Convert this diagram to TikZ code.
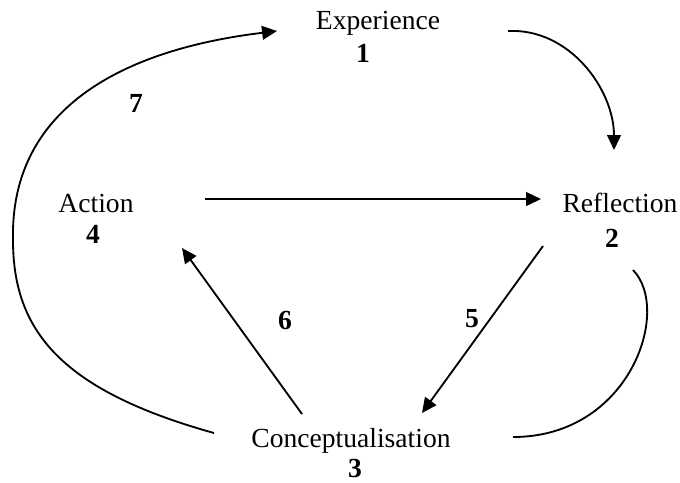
\documentclass[tikz,border=0pt]{standalone}
\usepackage{fontspec}
\setmainfont{Liberation Serif}
\usetikzlibrary{arrows.meta}

\begin{document}
\begin{tikzpicture}[x=0.435pt,y=-0.435pt,>={Triangle[length=6.5pt,width=6pt]},line width=0.8pt,font=\fontsize{12}{14}\selectfont]
\tikzstyle{lbl}=[anchor=base,inner sep=0pt]
\tikzstyle{num}=[lbl,font=\fontsize{12}{14}\selectfont\bfseries]
\useasboundingbox (0,0) rectangle (680,482);
% stages
\node[lbl] (exp) at (378,29) {Experience};
\node[num] (n1) at (363,62) {1};
\node[lbl] (ref) at (620,212) {Reflection};
\node[num] (n2) at (612,247) {2};
\node[lbl] (con) at (351,447) {Conceptualisation};
\node[num] (n3) at (355,477) {3};
\node[lbl] (act) at (96,212) {Action};
\node[num] (n4) at (93,243) {4};
% step numbers
\node[num] (n5) at (472,327) {5};
\node[num] (n6) at (285,329) {6};
\node[num] (n7) at (136,112) {7};
% end points
\coordinate (e1) at (508,31); \coordinate (r1) at (614,150);
\coordinate (a2) at (205,199); \coordinate (r2) at (541,199);
\coordinate (r5) at (543,246); \coordinate (c5) at (422,413);
\coordinate (c6) at (302,414); \coordinate (a6) at (182,248);
\coordinate (r8) at (633,270); \coordinate (c8) at (513,437);
\coordinate (c7) at (214,433); \coordinate (l7) at (13,240); \coordinate (e7) at (277,31);
% connectors
\draw[->] (e1) .. controls (570,28) and (614,90) .. (r1);
\draw[->] (a2) -- (r2);
\draw[->] (r5) -- (c5);
\draw[->] (c6) -- (a6);
\draw (r8) .. controls (672,310) and (630,437) .. (c8);
\draw[->] (c7) .. controls (60,390) and (13,330) .. (l7) .. controls (10,110) and (120,50) .. (e7);
\end{tikzpicture}
\end{document}
